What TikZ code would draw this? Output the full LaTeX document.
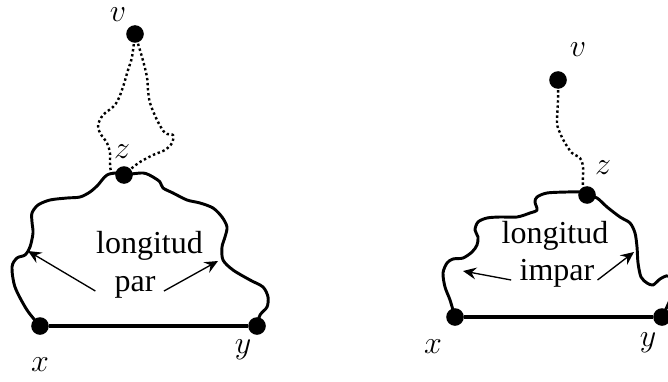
\documentclass[tikz,border=0pt,12pt]{standalone}
\usepackage{fontspec}
\setmainfont{Liberation Serif}
\usetikzlibrary{arrows.meta}
\tikzset{
	dot/.style={circle, fill=black, inner sep=0pt, minimum size=6.6pt},
	camino/.style={line width=1.1pt, line join=round},
	puntos/.style={line width=0.9pt, densely dotted},
	texto/.style={anchor=base, inner sep=2pt},
	flecha/.style={line width=0.5pt, -{Stealth[length=5pt, width=4.5pt, inset=1.8pt]}}
}
\begin{document}
\begin{tikzpicture}[x=0.375pt, y=-0.375pt]
	\useasboundingbox (0, 0) rectangle (668, 381);
	% longitud par
	\node[dot] (x1) at (40, 326) {};
	\node[dot] (y1) at (257, 326) {};
	\node[dot] (z1) at (124, 175) {};
	\node[dot] (v1) at (135, 34) {};
	\node (lx1) at (40, 365) {$x$};
	\node (ly1) at (243, 350) {$y$};
	\node (lz1) at (122, 152) {$z$};
	\node (lv1) at (118, 15) {$v$};
	\draw[line width=1.3pt] (x1) -- (y1);
	\draw[camino] plot[smooth, tension=0.5] coordinates {(x1.center) (27, 310) (15, 287) (12, 267) (17, 258) (25, 255) (30, 247) (33, 233) (32, 222) (32, 213) (38, 205) (50, 200) (67, 198) (80, 197) (90, 192) (98, 185) (102, 180) (107, 175) (115, 173) (z1.center)};
	\draw[camino] plot[smooth, tension=0.5] coordinates {(z1.center) (143, 173) (153, 177) (160, 182) (163, 188) (173, 193) (187, 200) (200, 203) (213, 208) (222, 217) (227, 227) (225, 237) (222, 247) (223, 260) (233, 270) (250, 280) (263, 287) (268, 297) (267, 307) (260, 315) (y1.center)};
	\draw[puntos] plot[smooth, tension=0.5] coordinates {(v1.center) (132, 57) (128, 70) (123, 87) (118, 100) (113, 107) (103, 115) (98, 125) (100, 133) (107, 143) (110, 153) (110, 163) (112, 173) (z1.center)};
	\draw[puntos] plot[smooth, tension=0.5] coordinates {(v1.center) (142, 57) (147, 77) (148, 90) (150, 103) (157, 120) (165, 133) (173, 135) (172, 143) (165, 150) (153, 155) (140, 162) (132, 168) (z1.center)};
	\node[texto] (lon1) at (149.5, 253) {longitud};
	\node[texto] (par1) at (135, 291) {par};
	\coordinate (p1) at (28, 251);
	\coordinate (p2) at (218, 261);
	\draw[flecha] ([xshift=-5pt]par1.base west) -- (p1);
	\draw[flecha] ([xshift=1pt]par1.base east) -- (p2);
	% longitud impar
	\node[dot] (x2) at (455, 317) {};
	\node[dot] (y2) at (662, 317) {};
	\node[dot] (z2) at (587, 195) {};
	\node[dot] (v2) at (558, 80) {};
	\node (lx2) at (433, 347) {$x$};
	\node (ly2) at (648, 343) {$y$};
	\node (lz2) at (603, 168) {$z$};
	\node (lv2) at (578, 50) {$v$};
	\draw[line width=1.3pt] (x2) -- (y2);
	\draw[camino] plot[smooth, tension=0.5] coordinates {(x2.center) (450, 300) (445, 287) (443, 273) (447, 263) (453, 259) (463, 258) (472, 252) (477, 245) (478, 237) (475, 230) (478, 222) (487, 218) (500, 217) (517, 217) (530, 213) (537, 210) (535, 202) (537, 197) (547, 193) (567, 192) (580, 192) (z2.center)};
	\draw[camino] plot[smooth, tension=0.5] coordinates {(z2.center) (597, 198) (607, 207) (620, 217) (630, 223) (635, 233) (637, 247) (638, 263) (641, 277) (647, 283) (653, 285) (660, 279) (668, 276) (674, 285) (670, 300) (y2.center)};
	\draw[puntos] plot[smooth, tension=0.5] coordinates {(v2.center) (558, 100) (557, 123) (560, 133) (565, 143) (572, 153) (580, 158) (583, 167) (583, 187) (z2.center)};
	\node[texto] (lon2) at (555, 243) {longitud};
	\node[texto] (imp2) at (557, 280) {impar};
	\coordinate (p3) at (463, 271);
	\coordinate (p4) at (634, 252);
	\draw[flecha] ([xshift=-1pt]imp2.base west) -- (p3);
	\draw[flecha] ([xshift=-1pt]imp2.base east) -- (p4);
\end{tikzpicture}
\end{document}
